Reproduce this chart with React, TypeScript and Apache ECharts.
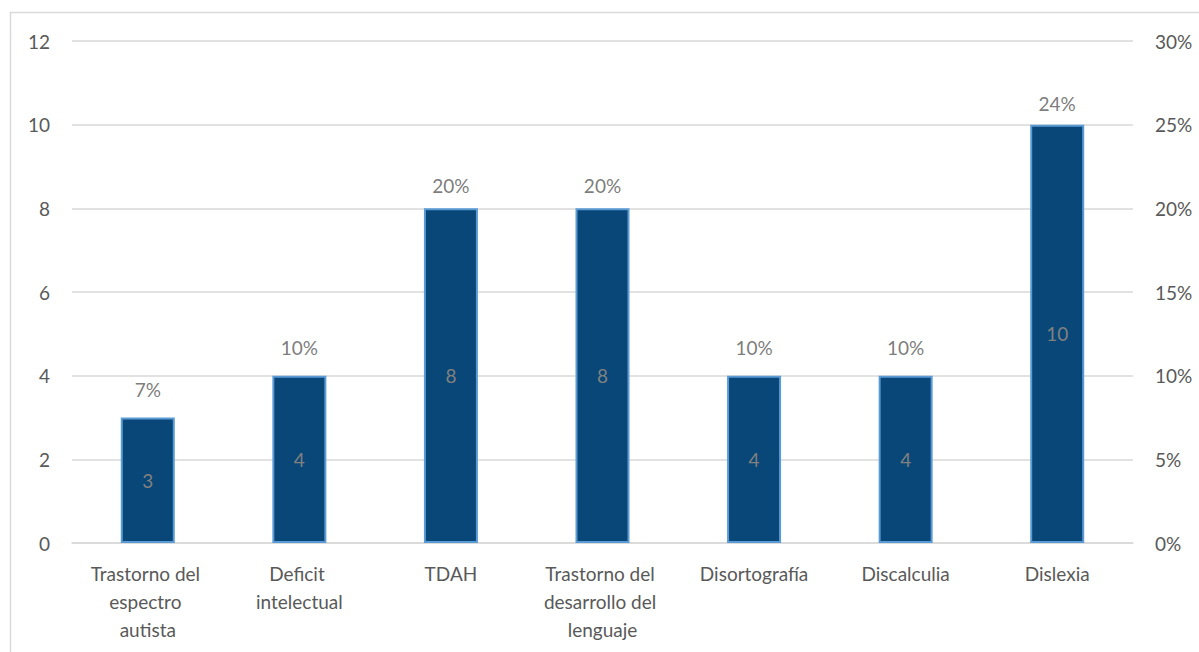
import React, { useEffect, useRef } from "react";
import * as echarts from "echarts";

const categories = [
  "Trastorno del espectro autista",
  "Deficit intelectual",
  "TDAH",
  "Trastorno del desarrollo del lenguaje",
  "Disortografía",
  "Discalculia",
  "Dislexia",
];
const counts = [3, 4, 8, 8, 4, 4, 10];
const percents = [7.3, 9.8, 19.5, 19.5, 9.8, 9.8, 24.4];

const FONT = "Lato";
const GRAY = "#595959";
const FS = 19;

export default function App() {
  const ref = useRef<HTMLDivElement>(null);
  useEffect(() => {
    if (!ref.current) return;
    const chart = echarts.init(ref.current, null, { renderer: "svg" });
    chart.setOption({
      animation: false,
      textStyle: { fontFamily: FONT },
      graphic: [
        {
          type: "rect",
          shape: { x: 10.5, y: 12.5, width: 1300, height: 800 },
          style: { fill: "none", stroke: "#d9d9d9", lineWidth: 1.5 },
          silent: true,
        },
      ],
      grid: { left: 72, right: 66, top: 41, bottom: 109, containLabel: false },
      xAxis: {
        type: "category",
        data: categories,
        axisLine: { lineStyle: { color: "#d9d9d9", width: 1.5 } },
        axisTick: { show: false },
        axisLabel: {
          color: GRAY,
          fontSize: FS,
          fontFamily: FONT,
          margin: 16,
          lineHeight: 28,
          width: 124,
          overflow: "break",
          interval: 0,
        },
      },
      yAxis: [
        {
          type: "value",
          min: 0,
          max: 12,
          interval: 2,
          axisLine: { show: false },
          axisTick: { show: false },
          splitLine: { lineStyle: { color: "#d9d9d9", width: 1.5 } },
          axisLabel: { color: GRAY, fontSize: FS, fontFamily: FONT, margin: 22 },
        },
        {
          type: "value",
          min: 0,
          max: 30,
          interval: 5,
          position: "right",
          axisLine: { show: false },
          axisTick: { show: false },
          splitLine: { show: false },
          axisLabel: {
            color: GRAY,
            fontSize: FS,
            fontFamily: FONT,
            margin: 22,
            formatter: (v: number) => `${v}%`,
          },
        },
      ],
      series: [
        {
          type: "bar",
          data: counts,
          barWidth: 54,
          itemStyle: { color: "#084777", borderColor: "#5B9BD5", borderWidth: 2 },
          label: {
            show: true,
            position: "inside",
            color: "#808080",
            fontSize: FS,
            fontFamily: FONT,
          },
        },
        {
          type: "scatter",
          yAxisIndex: 1,
          data: percents,
          symbol: "circle",
          symbolSize: 2,
          itemStyle: { color: "rgba(255,255,255,0)" },
          label: {
            show: true,
            position: "top",
            distance: 21,
            color: GRAY,
            fontSize: FS,
            fontFamily: FONT,
            formatter: (p: any) => `${Math.round(p.value)}%`,
          },
          z: 5,
        },
      ],
    });
    return () => chart.dispose();
  }, []);
  return (
    <div
      ref={ref}
      style={{ position: "fixed", left: 0, top: 0, width: 1199, height: 652, background: "#fff" }}
    />
  );
}
